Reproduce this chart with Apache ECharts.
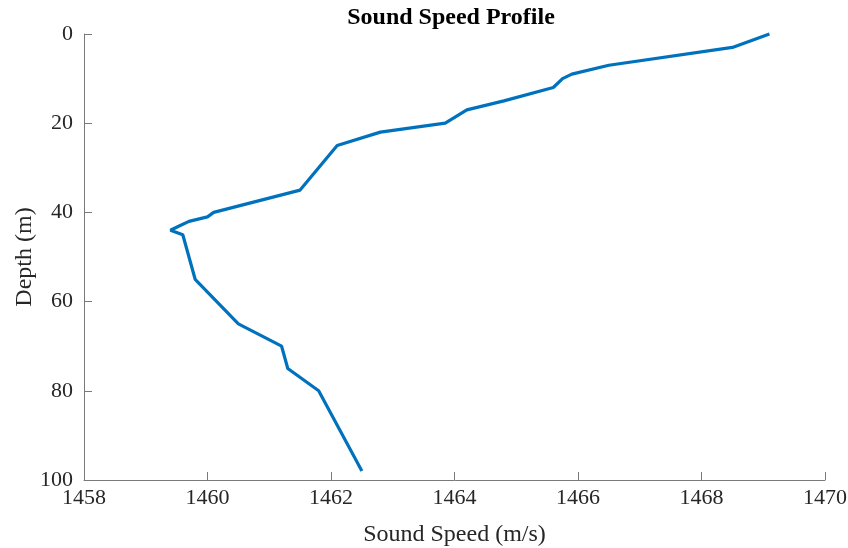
<!DOCTYPE html>
<html>
<head>
<meta charset="utf-8">
<script src="https://cdn.jsdelivr.net/npm/echarts@6/dist/echarts.min.js"></script>
<style>
  html, body { margin: 0; padding: 0; background: #fff; }
  #chart { width: 848px; height: 548px; }
</style>
</head>
<body>
<div id="chart"></div>
<script>
// Sound speed (m/s) measured at each depth (m)
const soundSpeed = [1469.1, 1468.5, 1466.5, 1465.9, 1465.75, 1465.6, 1464.8, 1464.2, 1463.85, 1462.8, 1462.1,
                    1461.5, 1460.1, 1460.0, 1459.7, 1459.55, 1459.4, 1459.6, 1459.7, 1459.8, 1460.15,
                    1460.5, 1461.2, 1461.3, 1461.8, 1462.5];
const depth = [0, 3, 7, 9, 10, 12, 15, 17, 20, 22, 25,
               35, 40, 41, 42, 43, 44, 45, 50, 55, 60,
               65, 70, 75, 80, 98];
const speedTicks = [1458, 1470, 2];   // min, max, step
const depthTicks = [0, 100, 20];      // min, max, step

const font = 'Liberation Serif, Times New Roman, serif';
const axisGray = '#7a7a7a';
const textColor = '#262626';

const chart = echarts.init(document.getElementById('chart'), null, { renderer: 'canvas' });
chart.setOption({
  animation: false,
  backgroundColor: '#ffffff',
  title: {
    text: 'Sound Speed Profile',
    left: 446, top: 1, textAlign: 'center',
    textStyle: { fontFamily: font, fontSize: 24, fontWeight: 'bold', color: '#000' }
  },
  grid: { left: 84, right: 23, top: 34, bottom: 68, outerBoundsMode: 'none', containLabel: false },
  xAxis: {
    type: 'value', position: 'bottom',
    min: speedTicks[0], max: speedTicks[1], interval: speedTicks[2],
    name: 'Sound Speed (m/s)', nameLocation: 'middle', nameGap: 43, nameMoveOverlap: false,
    nameTextStyle: { fontFamily: font, fontSize: 24, color: textColor },
    axisLine: { show: true, onZero: false, lineStyle: { color: axisGray, width: 1 } },
    axisTick: { show: true, inside: true, length: 8, lineStyle: { color: axisGray } },
    axisLabel: { fontFamily: font, fontSize: 22, color: textColor, margin: 7,
                 formatter: v => String(v) },
    splitLine: { show: false }
  },
  yAxis: {
    type: 'value', inverse: true, position: 'left',
    min: depthTicks[0], max: depthTicks[1], interval: depthTicks[2],
    name: 'Depth (m)', nameLocation: 'middle', nameGap: 47, nameMoveOverlap: false,
    nameTextStyle: { fontFamily: font, fontSize: 24, color: textColor },
    axisLine: { show: true, onZero: false, lineStyle: { color: axisGray, width: 1 } },
    axisTick: { show: true, inside: true, length: 8, lineStyle: { color: axisGray } },
    axisLabel: { fontFamily: font, fontSize: 22, color: textColor, margin: 11,
                 formatter: v => String(v) },
    splitLine: { show: false }
  },
  series: [{
    type: 'line',
    data: soundSpeed.map((v, i) => [v, depth[i]]),
    showSymbol: false, symbol: 'none',
    lineStyle: { color: '#0072BD', width: 3.2 },
    clip: false
  }]
});
</script>
</body>
</html>
